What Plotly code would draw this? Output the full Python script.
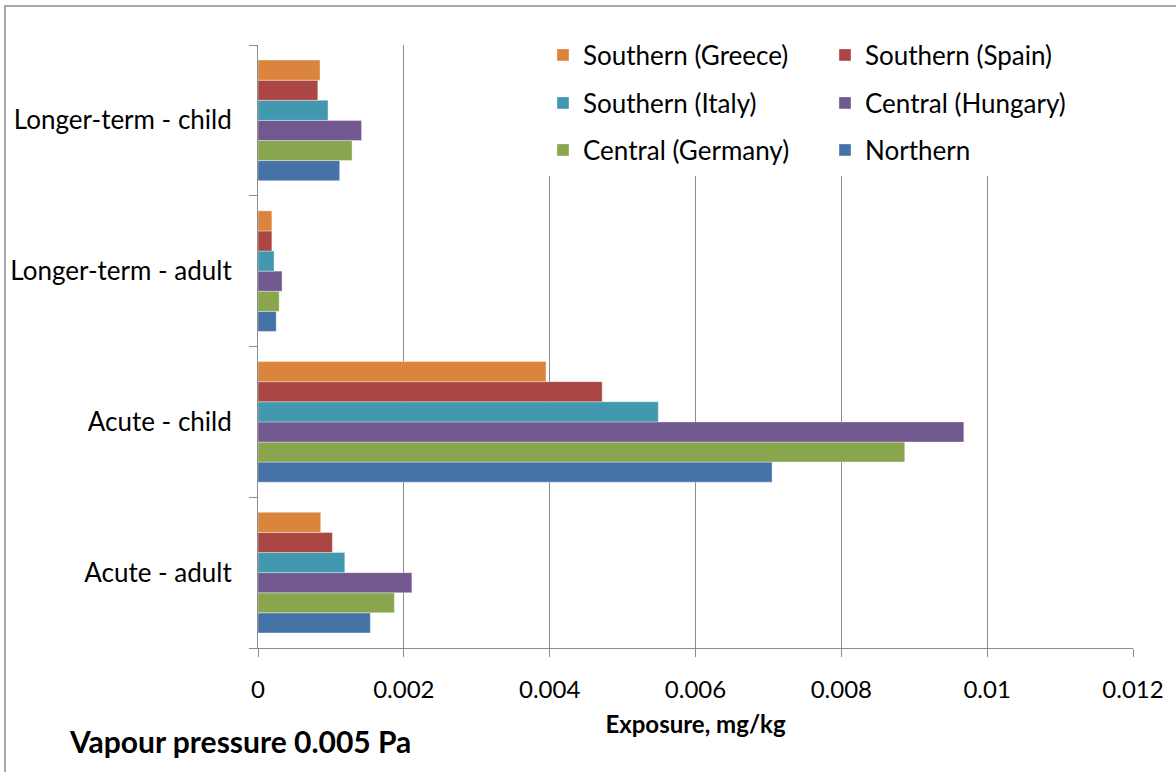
import plotly.graph_objects as go

categories = ["Acute - adult", "Acute - child", "Longer-term - adult", "Longer-term - child"]

# series (bottom to top within each group, as drawn)
northern = [0.00154, 0.00705, 0.00025, 0.00112]
central_germany = [0.00187, 0.00887, 0.00029, 0.00129]
central_hungary = [0.00211, 0.00968, 0.00033, 0.00142]
southern_italy = [0.00119, 0.00549, 0.00022, 0.00096]
southern_spain = [0.00102, 0.00472, 0.00019, 0.00082]
southern_greece = [0.00086, 0.00395, 0.00019, 0.00085]

x_ticks = [0, 0.002, 0.004, 0.006, 0.008, 0.01, 0.012]
x_tick_labels = ["0", "0.002", "0.004", "0.006", "0.008", "0.01", "0.012"]

series = [
    ("Northern", northern, "#4572A7", "legend3"),
    ("Central (Germany)", central_germany, "#89A54E", "legend3"),
    ("Central (Hungary)", central_hungary, "#71588F", "legend2"),
    ("Southern (Italy)", southern_italy, "#4198AF", "legend2"),
    ("Southern (Spain)", southern_spain, "#AA4643", "legend"),
    ("Southern (Greece)", southern_greece, "#DB843D", "legend"),
]

FONT = "Lato"
fig = go.Figure()
for name, vals, color, lg in series:
    fig.add_trace(go.Bar(
        y=categories, x=vals, name=name, orientation="h",
        marker=dict(color=color, line=dict(width=0.6, color="rgba(255,255,255,0.6)")),
        legend=lg,
    ))

W, H = 1176, 772
L, R, T, B = 258, 43, 45, 124
pw, ph = W - L - R, H - T - B

def px_x(px):
    return (px - L) / pw

def px_y(py):
    return (H - B - py) / ph

leg_common = dict(orientation="h", traceorder="reversed", bgcolor="rgba(0,0,0,0)",
                  font=dict(family=FONT, size=26, color="black"),
                  entrywidth=237, entrywidthmode="pixels",
                  xanchor="left", yanchor="middle", itemclick=False)

fig.update_layout(
    width=W, height=H,
    margin=dict(l=L, r=R, t=T, b=B, autoexpand=False),
    paper_bgcolor="white", plot_bgcolor="white",
    barmode="group", bargap=0.2, bargroupgap=0,
    font=dict(family=FONT, size=24, color="black"),
    legend=dict(x=px_x(543), y=px_y(55), **leg_common),
    legend2=dict(x=px_x(543), y=px_y(103), **leg_common),
    legend3=dict(x=px_x(543), y=px_y(150), **leg_common),
    xaxis=dict(
        range=[0, 0.012], tickvals=x_ticks, ticktext=x_tick_labels,
        showgrid=True, gridcolor="#8c8c8c", gridwidth=1,
        showline=True, linecolor="#8c8c8c", linewidth=1,
        ticks="outside", ticklen=8, tickcolor="#8c8c8c",
        ticklabelstandoff=12, zeroline=False,
        tickfont=dict(family=FONT, size=24, color="black"),
        title=dict(text="<b>Exposure, mg/kg</b>", font=dict(family=FONT, size=24, color="black"), standoff=14),
    ),
    yaxis=dict(
        categoryorder="array", categoryarray=categories,
        showline=True, linecolor="#8c8c8c", linewidth=1,
        ticks="outside", ticklen=8, tickcolor="#8c8c8c", tickson="boundaries",
        ticklabelstandoff=20, showgrid=False,
        tickfont=dict(family=FONT, size=26, color="black"),
    ),
    shapes=[
        dict(type="rect", xref="paper", yref="paper",
             x0=px_x(520), x1=px_x(1110), y0=px_y(176), y1=px_y(30),
             fillcolor="white", line=dict(width=0), layer="above"),
        dict(type="rect", xref="paper", yref="paper",
             x0=px_x(5), x1=px_x(1190), y0=px_y(790), y1=px_y(6),
             fillcolor="rgba(0,0,0,0)", line=dict(width=1.5, color="#8c8c8c"), layer="above"),
    ],
    annotations=[
        dict(text="<b>Vapour pressure 0.005 Pa</b>", xref="paper", yref="paper",
             x=px_x(67), y=px_y(741), xanchor="left", yanchor="middle", showarrow=False,
             font=dict(family=FONT, size=30, color="black")),
    ],
)

fig.write_html("out.html")
